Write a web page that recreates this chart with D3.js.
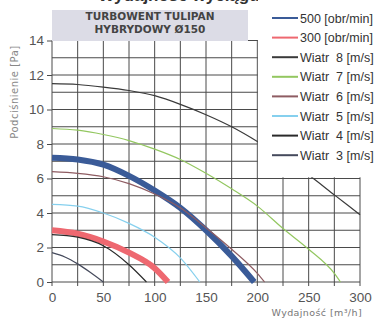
<!DOCTYPE html>
<html><head><meta charset="utf-8">
<script src="https://cdn.jsdelivr.net/npm/d3@7"></script>
<style>body{margin:0;background:#fff}svg{display:block}</style>
</head><body>
<svg id="c" width="381" height="320"></svg>
<script>
const xTicks = [0, 50, 100, 150, 200, 250, 300];
const yTicks = [0, 2, 4, 6, 8, 10, 12, 14];
const legendLabels = ["500 [obr/min]", "300 [obr/min]", "Wiatr  8 [m/s]", "Wiatr  7 [m/s]", "Wiatr  6 [m/s]", "Wiatr  5 [m/s]", "Wiatr  4 [m/s]", "Wiatr  3 [m/s]"];
const titleLines = ["TURBOWENT TULIPAN", "HYBRYDOWY Ø150"];

const rpm500 = [[0,7.2],[25,7.1],[50,6.8],[75,6.15],[100,5.3],[125,4.3],[150,3.0],[175,1.5],[197,0]];
const rpm300 = [[0,3.0],[25,2.8],[50,2.35],[75,1.7],[100,0.8],[113,0]];
const wind8 = [[0,11.5],[25,11.45],[50,11.3],[75,11.1],[100,10.8],[125,10.3],[150,9.7],[175,9.0],[200,8.15],[225,7.2],[250,6.2],[275,5.05],[300,3.9]];
const wind7 = [[0,8.9],[25,8.8],[50,8.55],[75,8.2],[100,7.7],[125,7.1],[150,6.3],[175,5.4],[200,4.4],[225,3.1],[250,1.9],[275,0.5],[281,0]];
const wind6 = [[0,6.4],[25,6.3],[50,6.1],[75,5.7],[100,5.1],[125,4.3],[150,3.15],[175,1.9],[200,0.5],[207,0]];
const wind5 = [[0,4.5],[25,4.4],[50,4.0],[75,3.4],[100,2.6],[125,1.4],[144,0]];
const wind4 = [[0,2.75],[25,2.6],[50,2.1],[75,1.0],[92,0]];
const wind3 = [[0,1.7],[12.5,1.45],[25,1.05],[37.5,0.55],[50,0]];

const svg = d3.select("#c");
const x = d3.scaleLinear().domain([0,300]).range([52,360]);
const y = d3.scaleLinear().domain([0,14]).range([282,40.5]);
const gridCol = "#4a4a4a";

// cut-off heading at top (only descenders visible, as in the reference)
svg.append("text").attr("x",238).attr("y",0.5).attr("text-anchor","middle")
  .attr("font-family","Liberation Sans, Arial, sans-serif").attr("font-weight","bold")
  .attr("font-size",17).attr("fill","#333").text("Wydajność wyciągu pojedynczego");

// grid
const g = svg.append("g");
g.selectAll(".vx").data(d3.range(0,301,25)).join("line")
  .attr("x1",d=>x(d)).attr("x2",d=>x(d)).attr("y1",y(14)).attr("y2",y(0)+4)
  .attr("stroke",gridCol).attr("stroke-width",1);
g.selectAll(".hy").data(d3.range(0,15,1)).join("line")
  .attr("x1",x(0)).attr("x2",x(300)).attr("y1",d=>y(d)).attr("y2",d=>y(d))
  .attr("stroke",gridCol).attr("stroke-width",1);

// axes (ticks + labels)
const yAxis = d3.axisLeft(y).tickValues(yTicks).tickSize(5).tickPadding(3);
const ya = svg.append("g").attr("transform",`translate(${x(0)},0)`).call(yAxis);
ya.select(".domain").remove();
ya.selectAll("line").attr("stroke",gridCol);
ya.selectAll("text").attr("font-family","Liberation Sans, Arial, sans-serif").attr("font-size",13.5).attr("fill","#555");

const xAxis = d3.axisBottom(x).tickValues(xTicks).tickSize(0).tickPadding(10);
const xa = svg.append("g").attr("transform",`translate(0,${y(0)})`).call(xAxis);
xa.select(".domain").remove();
xa.selectAll("text").attr("font-family","Liberation Sans, Arial, sans-serif").attr("font-size",13.5).attr("fill","#555");

// curves
const line = d3.line().x(d=>x(d[0])).y(d=>y(d[1])).curve(d3.curveMonotoneX);
const series = [
  {data:rpm500, color:"#3a5b98", w:6},
  {data:rpm300, color:"#ee6870", w:6},
  {data:wind8, color:"#3a3a3a", w:1.2},
  {data:wind7, color:"#93c760", w:1.2},
  {data:wind6, color:"#8e5c62", w:1.2},
  {data:wind5, color:"#86d0ee", w:1.2},
  {data:wind4, color:"#2a2a2a", w:1.2},
  {data:wind3, color:"#454a5c", w:1.2}
];
svg.append("g").selectAll("path").data(series).join("path")
  .attr("d",d=>line(d.data)).attr("fill","none")
  .attr("stroke",d=>d.color).attr("stroke-width",d=>d.w).attr("stroke-linecap","butt");

// legend (white background covering grid)
svg.append("rect").attr("x",x(200)+0.6).attr("y",0).attr("width",381-x(200)).attr("height",y(6)-1.2).attr("fill","#fff");
const lg = svg.append("g");
legendLabels.forEach((t,i)=>{
  const yy = 18 + i*19.6;
  lg.append("line").attr("x1",272).attr("x2",298).attr("y1",yy).attr("y2",yy)
    .attr("stroke",series[i].color).attr("stroke-width",2);
  lg.append("text").attr("x",300).attr("y",yy+4.5).attr("font-family","Liberation Sans, Arial, sans-serif")
    .attr("font-size",12.5).attr("fill","#333").attr("xml:space","preserve").style("white-space","pre").text(t);
});

// title box
svg.append("rect").attr("x",x(0)).attr("y",10).attr("width",196).attr("height",31).attr("fill","#dcdce6");
titleLines.forEach((t,i)=>{
  svg.append("text").attr("x",150).attr("y",20+i*12.5).attr("text-anchor","middle")
    .attr("font-family","DejaVu Sans, sans-serif").attr("font-weight","bold").attr("font-size",10.5)
    .attr("fill","#444").text(t);
});

// axis titles
svg.append("text").attr("transform","translate(18,92) rotate(-90)").attr("text-anchor","middle")
  .attr("font-family","DejaVu Sans, sans-serif").attr("font-size",10).attr("fill","#888").attr("letter-spacing",0.5)
  .text("Podciśnienie [Pa]");
svg.append("text").attr("x",362).attr("y",316).attr("text-anchor","end")
  .attr("font-family","DejaVu Sans, sans-serif").attr("font-size",9.5).attr("fill","#777").attr("letter-spacing",0.4)
  .text("Wydajność [m³/h]");
</script>
</body></html>
